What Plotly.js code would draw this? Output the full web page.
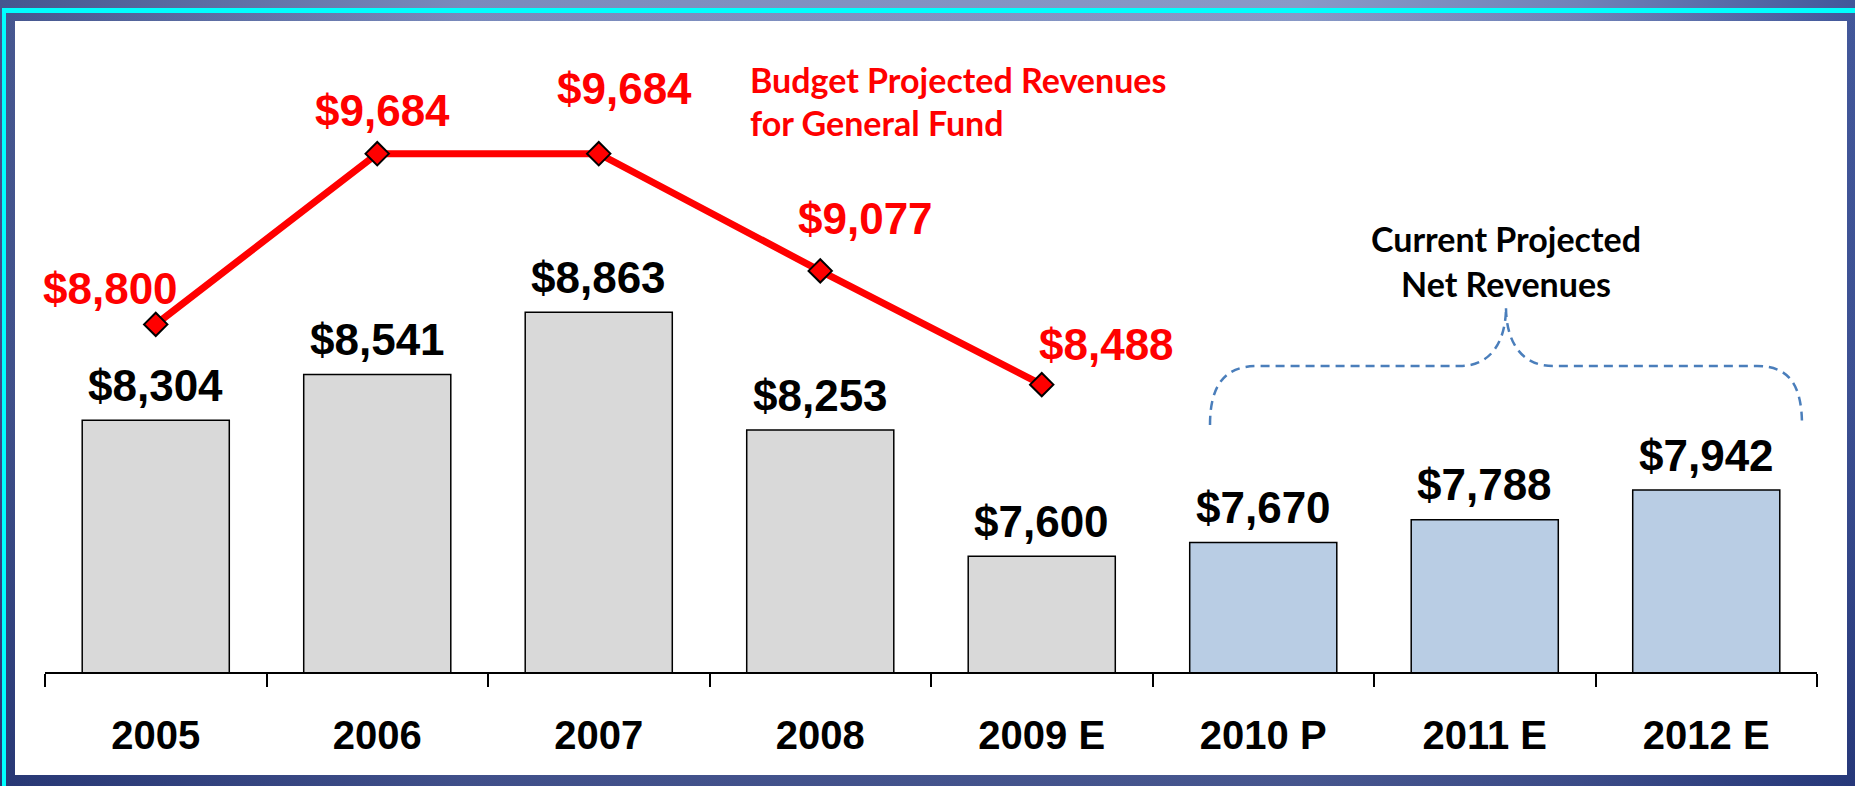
<!DOCTYPE html>
<html>
<head>
<meta charset="utf-8">
<script src="https://cdn.plot.ly/plotly-3.0.1.min.js"></script>
<style>
  html, body { margin: 0; padding: 0; width: 1855px; height: 786px; overflow: hidden; }
  body {
    position: relative;
    background:
      linear-gradient(to bottom, rgba(20,35,100,0) 0%, rgba(20,35,100,0.15) 50%, rgba(15,30,95,0.55) 100%),
      linear-gradient(to right, #45568f 0%, #7a8abc 25%, #8999c7 70%, #7182b8 85%, #42579a 100%);
  }
  #cyanTop { position: absolute; left: 2px; top: 8px; width: 1853px; height: 5px; background: #00ffff; }
  #cyanLeft { position: absolute; left: 2px; top: 8px; width: 4px; height: 778px; background: #00ffff; }
  #panel { position: absolute; left: 15px; top: 21px; width: 1832px; height: 754px; background: #ffffff; }
  #chart { position: absolute; left: 0; top: 0; width: 1855px; height: 786px; }
</style>
</head>
<body>
<div id="cyanTop"></div>
<div id="cyanLeft"></div>
<div id="panel"></div>
<div id="chart"></div>
<script>
// ---- data ----
const categories = ["2005", "2006", "2007", "2008", "2009 E", "2010 P", "2011 E", "2012 E"];
const netRevenues = [8304, 8541, 8863, 8253, 7600, 7670, 7788, 7942];
const budgetCategories = ["2005", "2006", "2007", "2008", "2009 E"];
const budgetRevenues = [8800, 9684, 9684, 9077, 8488];
const budgetTitle = ["Budget Projected Revenues", "for General Fund"];
const currentTitle = ["Current Projected", "Net Revenues"];

// ---- styles ----
const actualColor = "#d9d9d9";
const projectedColor = "#b9cde4";
const projectedFrom = "2010 P";
const barColors = categories.map((c, i) => i >= categories.indexOf(projectedFrom) ? projectedColor : actualColor);
const budgetLabelShift = [[-45, 36], [5, 43], [26, 65], [45, 52], [65, 40]];
const fmt = v => "$" + v.toLocaleString("en-US");
const catIndex = c => categories.indexOf(c);

const W = 1855, H = 786;
const M = { l: 45, r: 38, t: 54, b: 114 };
const pw = W - M.l - M.r, ph = H - M.t - M.b;
const px2paperX = px => (px - M.l) / pw;
const px2paperY = py => (H - M.b - py) / ph;

const labelFont = { family: "Arial, 'Liberation Sans', sans-serif", size: 44, color: "#000000", weight: 700 };
const redFont = Object.assign({}, labelFont, { color: "#ff0000" });
const noteFont = { family: "Lato, Calibri, sans-serif", size: 34, weight: 700 };

const bars = {
  type: "bar",
  x: categories,
  y: netRevenues,
  width: 0.664,
  marker: { color: barColors, line: { color: "#000000", width: 1.5 } },
  hoverinfo: "skip",
  showlegend: false
};

const line = {
  type: "scatter",
  mode: "lines+markers",
  x: budgetCategories,
  y: budgetRevenues,
  line: { color: "#ff0000", width: 7 },
  marker: { symbol: "diamond", size: 18, color: "#ff0000", line: { color: "#000000", width: 2 } },
  hoverinfo: "skip",
  showlegend: false,
  cliponaxis: false
};

const annotations = [];
categories.forEach((c, i) => {
  annotations.push({
    x: catIndex(c), y: netRevenues[i], xref: "x", yref: "y",
    text: fmt(netRevenues[i]), showarrow: false,
    xanchor: "center", yanchor: "middle", yshift: 35,
    font: labelFont
  });
});
budgetCategories.forEach((c, i) => {
  annotations.push({
    x: catIndex(c), y: budgetRevenues[i], xref: "x", yref: "y",
    text: fmt(budgetRevenues[i]), showarrow: false,
    xanchor: "center", yanchor: "middle",
    xshift: budgetLabelShift[i][0], yshift: budgetLabelShift[i][1],
    font: redFont
  });
});
budgetTitle.forEach((t, i) => {
  annotations.push({
    x: px2paperX(748), y: px2paperY(79 + 44 * i), xref: "paper", yref: "paper",
    text: t, showarrow: false, xanchor: "left", yanchor: "middle",
    font: Object.assign({}, noteFont, { color: "#ff0000" })
  });
});
currentTitle.forEach((t, i) => {
  annotations.push({
    x: px2paperX(1506), y: px2paperY(238 + 45 * i), xref: "paper", yref: "paper",
    text: t, showarrow: false, xanchor: "center", yanchor: "middle",
    font: Object.assign({}, noteFont, { color: "#000000" })
  });
});

// brace (decoration) in pixel space converted to paper
function P(x, y) { return px2paperX(x).toFixed(5) + "," + px2paperY(y).toFixed(5); }
const bracePath =
  "M" + P(1210, 425) + " C" + P(1210, 385) + " " + P(1225, 366) + " " + P(1257, 366) +
  " L" + P(1460, 366) + " C" + P(1492, 366) + " " + P(1506, 340) + " " + P(1506, 307) +
  " C" + P(1506, 340) + " " + P(1520, 366) + " " + P(1553, 366) +
  " L" + P(1757, 366) + " C" + P(1789, 366) + " " + P(1802, 385) + " " + P(1802, 425);

const layout = {
  width: W, height: H,
  margin: M,
  paper_bgcolor: "rgba(0,0,0,0)",
  plot_bgcolor: "rgba(0,0,0,0)",
  showlegend: false,
  xaxis: {
    type: "category",
    categoryorder: "array", categoryarray: categories,
    range: [-0.5, categories.length - 0.5],
    showline: true, linecolor: "#000000", linewidth: 2,
    ticks: "outside", tickson: "boundaries", ticklen: 13, tickwidth: 2, tickcolor: "#000000",
    showgrid: false, zeroline: false,
    tickfont: { family: "Arial, 'Liberation Sans', sans-serif", size: 40, color: "#000000", weight: 700 },
    ticklabelstandoff: 27,
    fixedrange: true
  },
  yaxis: {
    range: [7000, 10200],
    visible: false, showgrid: false, zeroline: false, fixedrange: true
  },
  shapes: [{
    type: "path", xref: "paper", yref: "paper", path: bracePath,
    line: { color: "#4a7ebb", width: 2.5, dash: "9px,6px" }
  }],
  annotations: annotations
};

Plotly.newPlot("chart", [bars, line], layout, { displayModeBar: false, staticPlot: true });
</script>
</body>
</html>
